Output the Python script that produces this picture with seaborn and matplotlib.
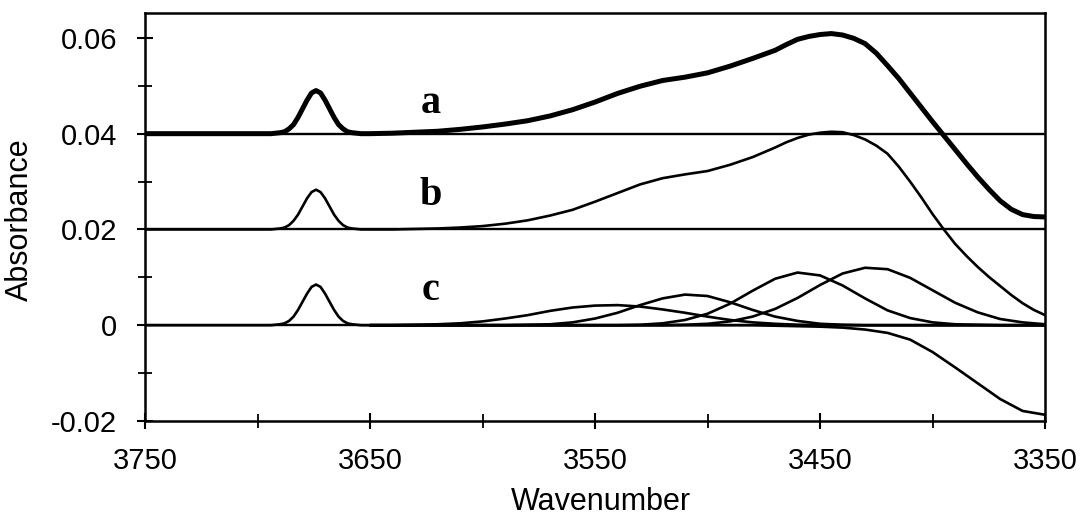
import numpy as np
import pandas as pd
import matplotlib
matplotlib.use("Agg")
import matplotlib.pyplot as plt
import seaborn as sns
from matplotlib.ticker import FixedLocator, MultipleLocator

# ---------------- data ----------------
# wavenumber grid for the full traces (finer around the narrow 3674 band
# and around the strongly curved main band)
W_TRACE = [3750, 3740, 3730, 3720, 3710, 3700,
           3694, 3690, 3688, 3686, 3684, 3682, 3680, 3678, 3676, 3674,
           3672, 3670, 3668, 3666, 3664, 3662, 3660, 3658, 3654,
           3650, 3640, 3630, 3620, 3610, 3600, 3590, 3580, 3570, 3560,
           3550, 3540, 3530, 3520, 3510, 3500, 3490, 3480,
           3470, 3465, 3460, 3455, 3450, 3445, 3440, 3435, 3430, 3425,
           3420, 3415, 3410, 3405, 3400, 3395, 3390, 3385, 3380, 3375,
           3370, 3365, 3360, 3355, 3350]

TRACE_A = [0.0400, 0.0400, 0.0400, 0.0400, 0.0400, 0.0400,
           0.0400, 0.0402, 0.0404, 0.0410, 0.0419, 0.0434, 0.0452, 0.0470, 0.0485, 0.0490,
           0.0485, 0.0470, 0.0452, 0.0434, 0.0419, 0.0410, 0.0404, 0.0402, 0.0400,
           0.0400, 0.0401, 0.0403, 0.0405, 0.0409, 0.0414, 0.0420, 0.0427, 0.0437, 0.0450,
           0.0466, 0.0484, 0.0499, 0.0511, 0.0518, 0.0527, 0.0541, 0.0557,
           0.0574, 0.0586, 0.0597, 0.0603, 0.0607, 0.0609, 0.0606, 0.0599, 0.0588, 0.0568,
           0.0542, 0.0515, 0.0485, 0.0455, 0.0425, 0.0396, 0.0367, 0.0338, 0.0310, 0.0284,
           0.0260, 0.0242, 0.0231, 0.0227, 0.0226]

TRACE_B = [0.0200, 0.0200, 0.0200, 0.0200, 0.0200, 0.0200,
           0.0200, 0.0202, 0.0204, 0.0209, 0.0218, 0.0231, 0.0248, 0.0265, 0.0278, 0.0283,
           0.0278, 0.0265, 0.0248, 0.0231, 0.0218, 0.0209, 0.0204, 0.0202, 0.0200,
           0.0200, 0.0200, 0.0201, 0.0202, 0.0204, 0.0207, 0.0212, 0.0219, 0.0229, 0.0241,
           0.0258, 0.0276, 0.0294, 0.0307, 0.0315, 0.0322, 0.0335, 0.0351,
           0.0371, 0.0382, 0.0391, 0.0398, 0.0402, 0.0404, 0.0403, 0.0397, 0.0388, 0.0375,
           0.0358, 0.0331, 0.0300, 0.0267, 0.0232, 0.0200, 0.0170, 0.0145, 0.0122, 0.0101,
           0.0082, 0.0063, 0.0046, 0.0032, 0.0021]

TRACE_C = [0.0, 0.0, 0.0, 0.0, 0.0, 0.0,
           0.0000, 0.0002, 0.0004, 0.0009, 0.0018, 0.0032, 0.0049, 0.0066, 0.0080, 0.0085,
           0.0080, 0.0066, 0.0049, 0.0032, 0.0018, 0.0009, 0.0004, 0.0002, 0.0000,
           0.0, 0.0, 0.0]

# band components (set c) and the negative band, on a 10 cm-1 grid
W_BAND = [3650, 3640, 3630, 3620, 3610, 3600, 3590, 3580, 3570, 3560,
          3550, 3540, 3530, 3520, 3510, 3500, 3490, 3480, 3470, 3460,
          3450, 3440, 3430, 3420, 3410, 3400, 3390, 3380, 3370, 3360,
          3350]

COMP_1 = [0.0000, 0.0000, 0.0001, 0.0002, 0.0004, 0.0008, 0.0014, 0.0021, 0.0030, 0.0037,
          0.0041, 0.0042, 0.0039, 0.0033, 0.0026, 0.0018, 0.0011, 0.0006, 0.0003, 0.0001,
          0.0, 0.0, 0.0, 0.0, 0.0, 0.0, 0.0, 0.0, 0.0, 0.0,
          0.0]
COMP_2 = [0.0, 0.0, 0.0, 0.0, 0.0, 0.0, 0.0000, 0.0001, 0.0002, 0.0006,
          0.0014, 0.0026, 0.0042, 0.0056, 0.0064, 0.0061, 0.0048, 0.0032, 0.0018, 0.0009,
          0.0003, 0.0001, 0.0, 0.0, 0.0, 0.0, 0.0, 0.0, 0.0, 0.0,
          0.0]
COMP_3 = [0.0, 0.0, 0.0, 0.0, 0.0, 0.0, 0.0, 0.0, 0.0, 0.0,
          0.0, 0.0, 0.0001, 0.0004, 0.0011, 0.0024, 0.0045, 0.0072, 0.0097, 0.0110,
          0.0104, 0.0083, 0.0056, 0.0031, 0.0015, 0.0006, 0.0002, 0.0001, 0.0, 0.0,
          0.0]
COMP_4 = [0.0, 0.0, 0.0, 0.0, 0.0, 0.0, 0.0, 0.0, 0.0, 0.0,
          0.0, 0.0, 0.0, 0.0, 0.0001, 0.0003, 0.0008, 0.0018, 0.0034, 0.0057,
          0.0084, 0.0108, 0.0120, 0.0117, 0.0099, 0.0073, 0.0047, 0.0027, 0.0013, 0.0006,
          0.0002]
NEG_BAND = [0.0, 0.0, 0.0, 0.0, 0.0, 0.0, 0.0, 0.0, 0.0, 0.0,
            0.0, 0.0, 0.0, 0.0, 0.0, 0.0, 0.0, 0.0, -0.0001, -0.0002,
            -0.0003, -0.0005, -0.0009, -0.0016, -0.0030, -0.0056, -0.0088, -0.0121, -0.0154, -0.0179,
            -0.0187]

BASELINES = [0.04, 0.02, 0.0]

TRACE_LABELS = ["a", "b", "c"]
LABEL_X = [3623, 3623, 3623]
LABEL_Y = [0.0444, 0.0251, 0.0053]

X_TICKS = [3750, 3650, 3550, 3450, 3350]
X_TICK_LABELS = ["3750", "3650", "3550", "3450", "3350"]
Y_TICKS = [-0.02, 0.0, 0.02, 0.04, 0.06]
Y_TICK_LABELS = ["-0.02", "0", "0.02", "0.04", "0.06"]

X_LABEL = "Wavenumber"
Y_LABEL = "Absorbance"

# ---------------- plotting ----------------
sns.set_style("ticks")
plt.rcParams['font.family'] = ['Liberation Sans', 'DejaVu Sans']

fig = plt.figure(figsize=(10.84, 5.15), dpi=100)
ax = fig.add_axes([0.1338, 0.1825, 0.8303, 0.7923])

for b in BASELINES:
    ax.axhline(b, color="black", lw=1.7, zorder=1)

trace_df = pd.DataFrame({"w": W_TRACE, "a": TRACE_A, "b": TRACE_B})
peak_df = pd.DataFrame({"w": W_TRACE[:len(TRACE_C)], "c": TRACE_C})
band_df = pd.DataFrame({"w": W_BAND, "c1": COMP_1, "c2": COMP_2, "c3": COMP_3,
                        "c4": COMP_4, "neg": NEG_BAND})

sns.lineplot(data=trace_df, x="w", y="a", ax=ax, color="black", lw=3.6,
             estimator=None, sort=False, zorder=3)
sns.lineplot(data=trace_df, x="w", y="b", ax=ax, color="black", lw=1.9,
             estimator=None, sort=False, zorder=3)
sns.lineplot(data=peak_df, x="w", y="c", ax=ax, color="black", lw=1.9,
             estimator=None, sort=False, zorder=3)
for col in ["c1", "c2", "c3", "c4", "neg"]:
    sns.lineplot(data=band_df, x="w", y=col, ax=ax, color="black", lw=1.9,
                 estimator=None, sort=False, zorder=3)

for lab, lx, ly in zip(TRACE_LABELS, LABEL_X, LABEL_Y):
    ax.text(lx, ly, lab, family=["Liberation Serif", "DejaVu Serif"], weight="bold",
            fontsize=29, ha="center", va="baseline", color="black")

ax.set_xlim(3750, 3350)
ax.set_ylim(-0.02, 0.0652)

ax.xaxis.set_major_locator(FixedLocator(X_TICKS))
ax.set_xticklabels(X_TICK_LABELS)
ax.xaxis.set_minor_locator(MultipleLocator(50))
ax.yaxis.set_major_locator(FixedLocator(Y_TICKS))
ax.set_yticklabels(Y_TICK_LABELS)
ax.yaxis.set_minor_locator(MultipleLocator(0.01))

ax.tick_params(which="major", direction="inout", length=12, width=1.5,
               colors="black", labelsize=21)
ax.tick_params(which="minor", direction="inout", length=10, width=1.3, colors="black")
ax.tick_params(axis="x", which="major", pad=13)
ax.tick_params(axis="y", which="major", pad=14)

for s in ax.spines.values():
    s.set_visible(True)
    s.set_color("black")
    s.set_linewidth(1.8)

ax.set_xlabel(X_LABEL, fontsize=22, color="black", va="center")
ax.set_ylabel(Y_LABEL, fontsize=22, color="black", va="center")
ax.xaxis.set_label_coords(0.507, -0.198)
ax.yaxis.set_label_coords(-0.139, 0.493)

fig.savefig("out.png", dpi=100, facecolor="white")
